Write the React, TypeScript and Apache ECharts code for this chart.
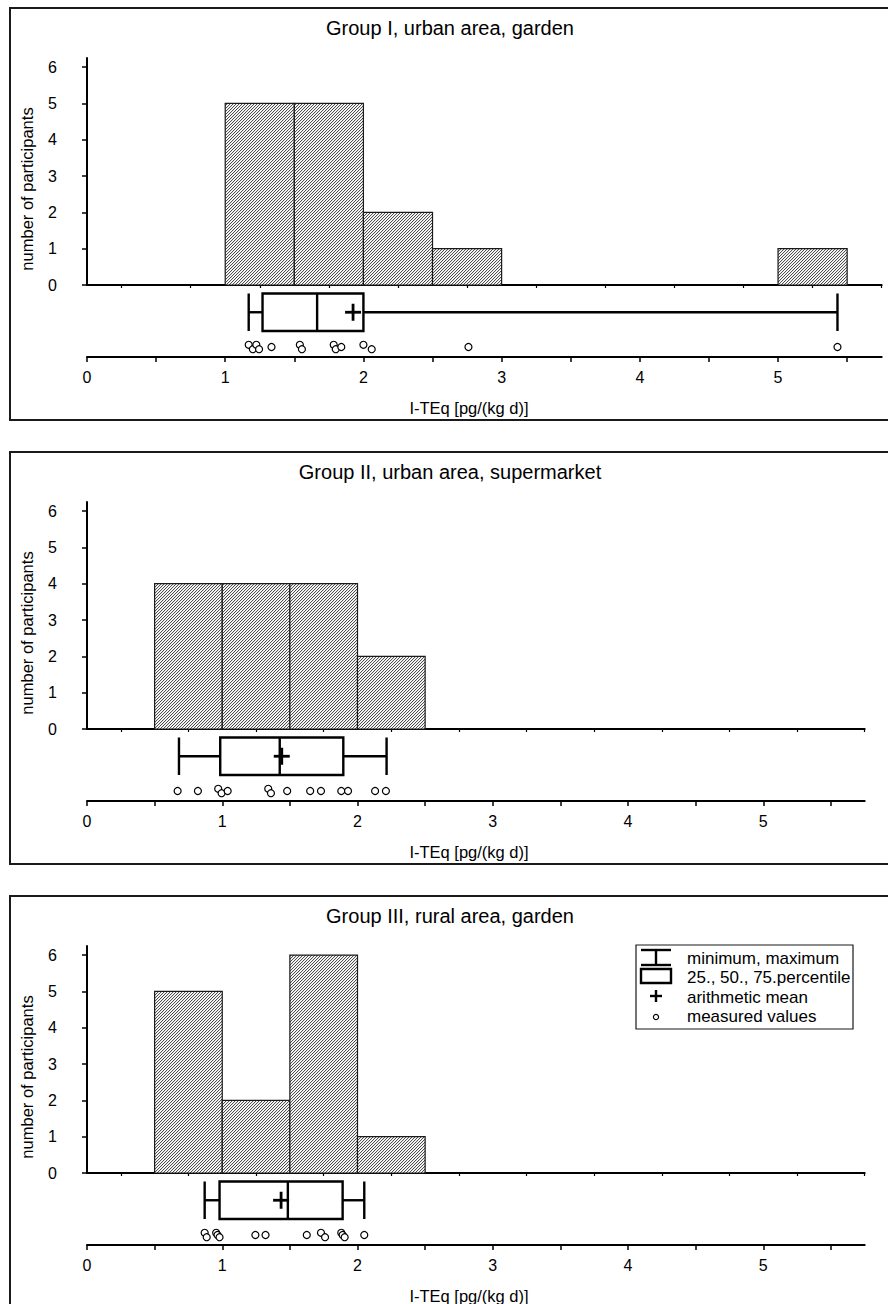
import React, { useEffect, useRef } from 'react';
import * as echarts from 'echarts';

// ---------- data ----------
const groupTitles = [
  'Group I, urban area, garden',
  'Group II, urban area, supermarket',
  'Group III, rural area, garden',
];
const xAxisName = 'I-TEq [pg/(kg d)]';
const yAxisName = 'number of participants';
const legendLabels = ['minimum, maximum', '25., 50., 75.percentile', 'arithmetic mean', 'measured values'];

const binWidth = 0.5;
const g1BinStarts = [1.0, 1.5, 2.0, 2.5, 5.0];
const g1Counts = [5, 5, 2, 1, 1];
const g2BinStarts = [0.5, 1.0, 1.5, 2.0];
const g2Counts = [4, 4, 4, 2];
const g3BinStarts = [0.5, 1.0, 1.5, 2.0];
const g3Counts = [5, 2, 6, 1];

// [min, q1, median, q3, max]
const g1Box = [1.17, 1.27, 1.665, 2.0, 5.43];
const g2Box = [0.68, 0.985, 1.425, 1.895, 2.215];
const g3Box = [0.87, 0.98, 1.485, 1.89, 2.05];
const g1Mean = 1.925;
const g2Mean = 1.44;
const g3Mean = 1.435;

const g1Values = [1.17, 1.2, 1.225, 1.245, 1.335, 1.54, 1.555, 1.785, 1.8, 1.84, 2.0, 2.06, 2.76, 5.43];
const g1Jitter = [-1, 1, -1, 1, 0, -1, 1, -1, 1, 0, -1, 1, 0, 0];
const g2Values = [0.67, 0.82, 0.97, 0.995, 1.04, 1.34, 1.36, 1.48, 1.65, 1.73, 1.88, 1.93, 2.13, 2.21];
const g2Jitter = [0, 0, -1, 1, 0, -1, 1, 0, 0, 0, 0, 0, 0, 0];
const g3Values = [0.87, 0.885, 0.955, 0.965, 0.98, 1.245, 1.32, 1.625, 1.73, 1.76, 1.88, 1.89, 1.905, 2.05];
const g3Jitter = [-1, 1, -1, 0, 1, 0, 0, 0, -1, 1, -1, 0, 1, 0];

const xMajorTicks = [0, 0.5, 1, 1.5, 2, 2.5, 3, 3.5, 4, 4.5, 5, 5.5];
const xMinorTicks = [0.25, 0.75, 1.25, 1.75, 2.25, 2.75, 3.25, 3.75, 4.25, 4.75, 5.25, 5.75];
const xTickLabels = [0, 1, 2, 3, 4, 5];
const yTickLabels = [0, 1, 2, 3, 4, 5, 6];
const xMax = 5.75;
const yMax = 6.25;

// ---------- layout ----------
const FONT = "'Liberation Sans', Arial, Helvetica, sans-serif";
const PANEL_STEP = 444;
const BOX_TOP = 8.5;
const BOX_BOT = 46;
const DOT_Y = 62;
const JIT = 2.2;

const panels = [
  { bins: g1BinStarts, counts: g1Counts, box: g1Box, mean: g1Mean, values: g1Values, jitter: g1Jitter, right: 6.3, legend: false },
  { bins: g2BinStarts, counts: g2Counts, box: g2Box, mean: g2Mean, values: g2Values, jitter: g2Jitter, right: 23.3, legend: false },
  { bins: g3BinStarts, counts: g3Counts, box: g3Box, mean: g3Mean, values: g3Values, jitter: g3Jitter, right: 23.3, legend: true },
];

function makeHatch(): HTMLCanvasElement {
  const c = document.createElement('canvas');
  c.width = 6;
  c.height = 6;
  const ctx = c.getContext('2d')!;
  ctx.fillStyle = '#ffffff';
  ctx.fillRect(0, 0, 6, 6);
  for (let x = 0; x < 6; x++) {
    for (let y = 0; y < 6; y++) {
      const k = (x + y) % 3;
      if (k === 0) {
        ctx.fillStyle = '#505050';
        ctx.fillRect(x, y, 1, 1);
      } else if (k === 1) {
        ctx.fillStyle = '#e4e4e4';
        ctx.fillRect(x, y, 1, 1);
      }
    }
  }
  return c;
}

function buildOption() {
  const hatch = makeHatch();
  const pattern: any = { image: hatch, repeat: 'repeat', imageWidth: 6, imageHeight: 6 };
  const grid: any[] = [];
  const xAxis: any[] = [];
  const yAxis: any[] = [];
  const series: any[] = [];
  const graphic: any[] = [];

  panels.forEach((p, i) => {
    const off = i * PANEL_STEP;
    grid.push({ left: 87, right: p.right, top: 58 + off, height: 227 });
    grid.push({ left: 87, right: p.right, top: 285 + off, height: 72 });

    // hist x axis (baseline)
    xAxis.push({
      gridIndex: 2 * i, type: 'value', min: 0, max: xMax,
      axisLine: { show: true, onZero: false, lineStyle: { color: '#000', width: 2 } },
      axisTick: { show: false }, axisLabel: { show: false }, splitLine: { show: false },
    });
    // bottom x axis (major)
    xAxis.push({
      gridIndex: 2 * i + 1, type: 'value', min: 0, max: xMax, position: 'bottom',
      axisLine: { show: true, onZero: false, lineStyle: { color: '#000', width: 2 } },
      axisTick: { show: true, customValues: xMajorTicks, length: 5, lineStyle: { color: '#000', width: 1.5 } },
      axisLabel: { show: true, customValues: xTickLabels, margin: 12, color: '#000', fontSize: 16, fontFamily: FONT },
      splitLine: { show: false },
    });
    // bottom x axis (minor ticks)
    xAxis.push({
      gridIndex: 2 * i + 1, type: 'value', min: 0, max: xMax, position: 'bottom',
      axisLine: { show: false },
      axisTick: { show: true, customValues: xMinorTicks, length: 3, lineStyle: { color: '#000', width: 1.2 } },
      axisLabel: { show: false }, splitLine: { show: false },
    });
    yAxis.push({
      gridIndex: 2 * i, type: 'value', min: 0, max: yMax, interval: 1, offset: 17,
      axisLine: { show: true, lineStyle: { color: '#000', width: 2 } },
      axisTick: { show: true, customValues: yTickLabels, length: 5, lineStyle: { color: '#000', width: 1.5 } },
      axisLabel: { show: true, customValues: yTickLabels, margin: 13, color: '#000', fontSize: 16, fontFamily: FONT },
      splitLine: { show: false },
    });
    yAxis.push({ gridIndex: 2 * i + 1, type: 'value', min: 0, max: 72, inverse: true, show: false });

    series.push({
      type: 'custom', xAxisIndex: 3 * i, yAxisIndex: 2 * i, clip: false,
      data: p.bins.map((b, k) => [b, b + binWidth, p.counts[k]]),
      encode: { x: [0, 1], y: 2 },
      renderItem: (_params: any, api: any) => {
        const a = api.coord([api.value(0), api.value(2)]);
        const b = api.coord([api.value(1), 0]);
        return {
          type: 'rect',
          shape: { x: a[0], y: a[1], width: b[0] - a[0], height: b[1] - a[1] },
          style: { fill: pattern, stroke: '#1a1a1a', lineWidth: 1.2 },
        };
      },
      z: 1,
    });

    series.push({
      type: 'custom', xAxisIndex: 3 * i + 1, yAxisIndex: 2 * i + 1, clip: false,
      data: [[...p.box, p.mean]],
      encode: { x: [0, 1, 2, 3, 4, 5] },
      renderItem: (_params: any, api: any) => {
        const X = (v: number) => api.coord([v, 0])[0];
        const top = api.coord([0, BOX_TOP])[1];
        const bot = api.coord([0, BOX_BOT])[1];
        const mid = (top + bot) / 2;
        const mn = X(api.value(0)), q1 = X(api.value(1)), md = X(api.value(2)), q3 = X(api.value(3)), mx = X(api.value(4)), mean = X(api.value(5));
        const st = { stroke: '#000', lineWidth: 2.4, fill: 'none' };
        const line = (x1: number, y1: number, x2: number, y2: number) => ({ type: 'line', shape: { x1, y1, x2, y2 }, style: st });
        return {
          type: 'group',
          children: [
            line(mn, mid, q1, mid),
            line(q3, mid, mx, mid),
            line(mn, top, mn, bot),
            line(mx, top, mx, bot),
            { type: 'rect', shape: { x: q1, y: top, width: q3 - q1, height: bot - top }, style: { stroke: '#000', lineWidth: 2.4, fill: 'rgba(0,0,0,0)' } },
            line(md, top, md, bot),
            { type: 'line', shape: { x1: mean - 8, y1: mid, x2: mean + 8, y2: mid }, style: { stroke: '#000', lineWidth: 2.8 } },
            { type: 'line', shape: { x1: mean, y1: mid - 8.5, x2: mean, y2: mid + 8.5 }, style: { stroke: '#000', lineWidth: 2.8 } },
          ],
        };
      },
      z: 3,
    });

    series.push({
      type: 'scatter', xAxisIndex: 3 * i + 1, yAxisIndex: 2 * i + 1,
      data: p.values.map((v, k) => [v, DOT_Y + p.jitter[k] * JIT]),
      symbol: 'circle', symbolSize: 7,
      itemStyle: { color: '#fff', borderColor: '#000', borderWidth: 1.2, opacity: 1 },
      z: 4,
    });

    // frame
    graphic.push({
      type: 'rect', silent: true, z: 0,
      shape: { x: 10, y: 8 + off, width: 880, height: 412 },
      style: { fill: 'none', stroke: '#1a1a1a', lineWidth: 2 },
    });
    graphic.push({
      type: 'text', x: 450, y: 28 + off, silent: true,
      style: { text: groupTitles[i], fontSize: 20, fontFamily: FONT, fill: '#000', align: 'center', verticalAlign: 'middle' },
    });
    graphic.push({
      type: 'text', x: 27, y: 189 + off, rotation: Math.PI / 2, silent: true,
      style: { text: yAxisName, fontSize: 16.5, fontFamily: FONT, fill: '#000', align: 'center', verticalAlign: 'middle' },
    });
    graphic.push({
      type: 'text', x: 469, y: 407.5 + off, silent: true,
      style: { text: xAxisName, fontSize: 16.5, fontFamily: FONT, fill: '#000', align: 'center', verticalAlign: 'middle' },
    });

    if (p.legend) {
      const lx = 636, ly = 945 - 888 + off;
      const ls = { stroke: '#000', lineWidth: 2.4, fill: 'none' };
      graphic.push({
        type: 'group', silent: true,
        children: [
          { type: 'rect', shape: { x: lx, y: ly, width: 217, height: 84 }, style: { fill: '#fff', stroke: '#1a1a1a', lineWidth: 1.2 } },
          { type: 'line', shape: { x1: 641, y1: ly + 5, x2: 671, y2: ly + 5 }, style: ls },
          { type: 'line', shape: { x1: 641, y1: ly + 20, x2: 671, y2: ly + 20 }, style: ls },
          { type: 'line', shape: { x1: 656, y1: ly + 5, x2: 656, y2: ly + 20 }, style: ls },
          { type: 'rect', shape: { x: 641, y: ly + 24, width: 30, height: 14 }, style: { stroke: '#000', lineWidth: 2.4, fill: 'none' } },
          { type: 'line', shape: { x1: 650, y1: ly + 51, x2: 662, y2: ly + 51 }, style: ls },
          { type: 'line', shape: { x1: 656, y1: ly + 45, x2: 656, y2: ly + 57 }, style: ls },
          { type: 'circle', shape: { cx: 656, cy: ly + 72, r: 2.6 }, style: { fill: '#fff', stroke: '#000', lineWidth: 1.2 } },
          ...legendLabels.map((t, k) => ({
            type: 'text', x: 687, y: ly + 13 + k * 19.5,
            style: { text: t, fontSize: 17, fontFamily: FONT, fill: '#000', align: 'left', verticalAlign: 'middle' },
          })),
        ],
      });
    }
  });

  return { animation: false, backgroundColor: '#fff', grid, xAxis, yAxis, series, graphic };
}

export default function App() {
  const ref = useRef<HTMLDivElement>(null);
  useEffect(() => {
    const chart = echarts.init(ref.current!, null, { renderer: 'svg' });
    chart.setOption(buildOption() as any);
    return () => chart.dispose();
  }, []);
  return <div ref={ref} style={{ position: 'absolute', left: 0, top: 0, width: 888, height: 1304 }} />;
}
